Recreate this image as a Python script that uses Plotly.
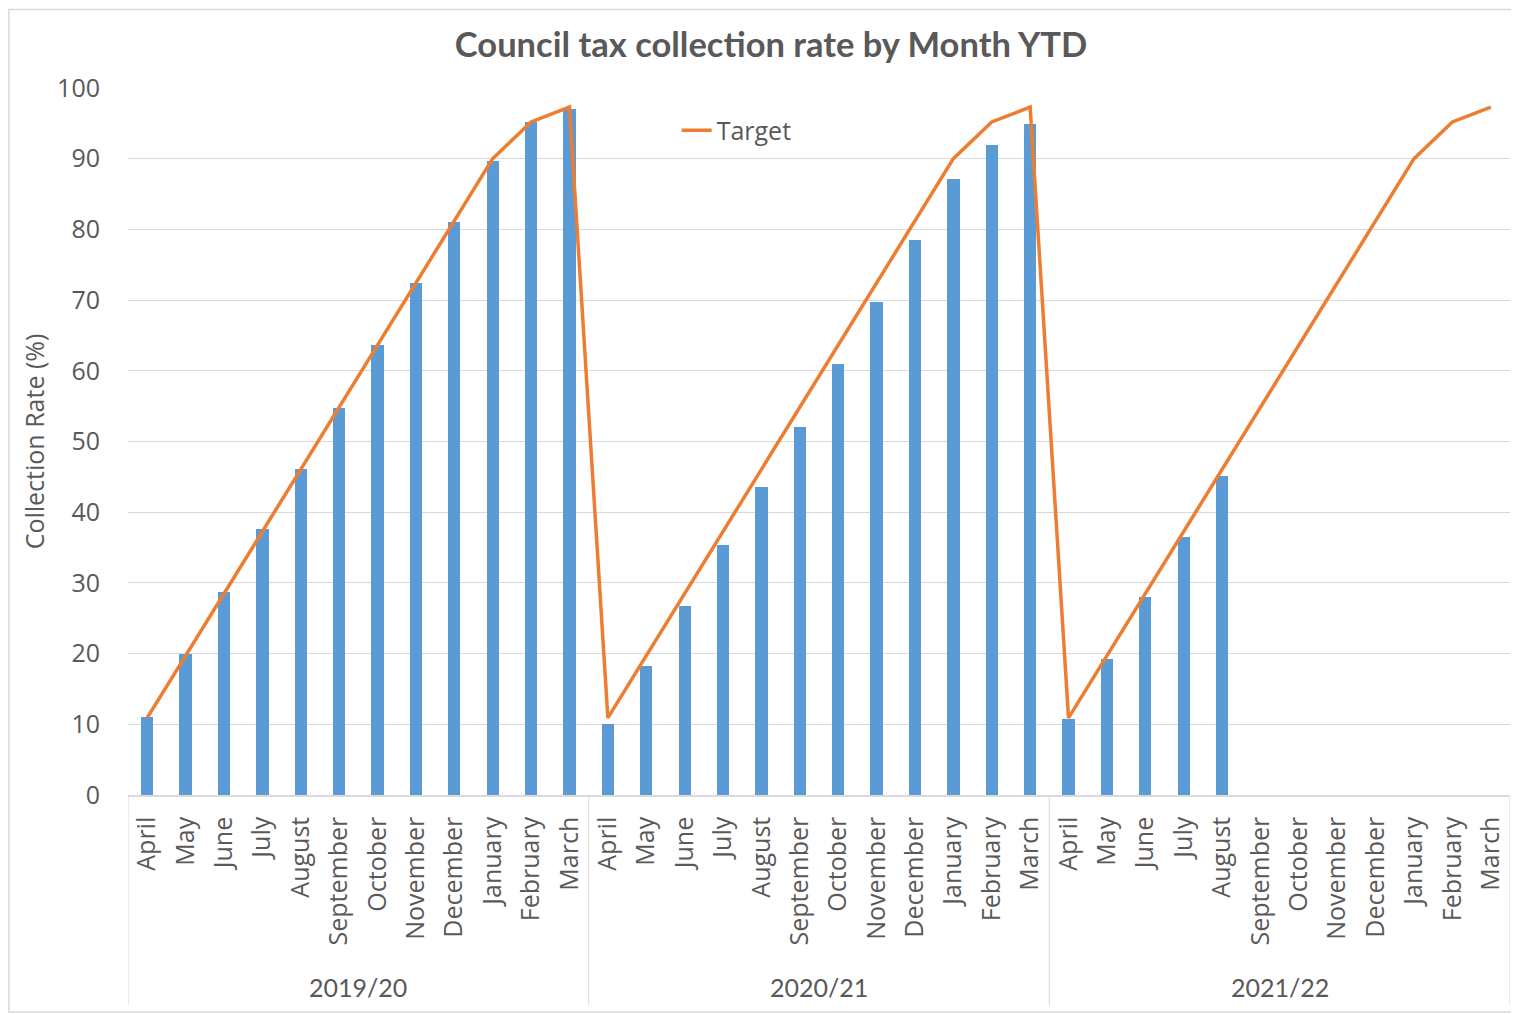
import plotly.graph_objects as go

months = ["April", "May", "June", "July", "August", "September", "October",
          "November", "December", "January", "February", "March"]
years = ["2019/20", "2020/21", "2021/22"]

actual_2019 = [11.1, 20.0, 28.7, 37.6, 46.1, 54.8, 63.6, 72.4, 81.1, 89.7, 95.2, 97.0]
actual_2020 = [10.0, 18.3, 26.8, 35.3, 43.5, 52.1, 60.9, 69.8, 78.5, 87.1, 91.9, 94.9]
actual_2021 = [10.7, 19.2, 28.0, 36.5, 45.1, None, None, None, None, None, None, None]

target_2019 = [10.9, 19.7, 28.5, 37.3, 46.1, 54.8, 63.6, 72.4, 81.2, 90.0, 95.2, 97.3]
target_2020 = [10.9, 19.7, 28.5, 37.3, 46.1, 54.8, 63.6, 72.4, 81.2, 90.0, 95.2, 97.3]
target_2021 = [10.9, 19.7, 28.5, 37.3, 46.1, 54.8, 63.6, 72.4, 81.2, 90.0, 95.2, 97.3]

y_ticks = [0, 10, 20, 30, 40, 50, 60, 70, 80, 90, 100]

actual = actual_2019 + actual_2020 + actual_2021
target = target_2019 + target_2020 + target_2021
labels = months * len(years)
xpos = list(range(len(labels)))

GRAY = "#595959"
FONT = "Open Sans"
TFONT = "Lato"

fig = go.Figure()
fig.add_trace(go.Bar(x=xpos, y=actual, width=0.32, marker_color="#5B9BD5",
                     marker_line_width=0, showlegend=False, name="Actual"))
fig.add_trace(go.Scatter(x=xpos, y=target, mode="lines", name="Target",
                         line=dict(color="#ED7D31", width=3.5)))

n = len(months)
shapes = []
for k in range(len(years) + 1):
    shapes.append(dict(type="line", xref="x", yref="paper",
                       x0=k * n - 0.5, x1=k * n - 0.5, y0=0, y1=-0.297,
                       line=dict(color="#d9d9d9", width=1)))
shapes.append(dict(type="rect", xref="paper", yref="paper",
                   x0=-0.0862, x1=1.005, y0=-0.307, y1=1.111,
                   line=dict(color="#d9d9d9", width=1.5), fillcolor="rgba(0,0,0,0)"))

annotations = []
for k, yr in enumerate(years):
    annotations.append(dict(x=k * n + (n - 1) / 2, xref="x", y=-0.2716, yref="paper",
                            text=yr, showarrow=False, yanchor="middle",
                            font=dict(family=TFONT, size=25, color=GRAY)))

fig.update_layout(
    width=1511, height=1006,
    margin=dict(l=120, r=9, t=80, b=219),
    paper_bgcolor="white", plot_bgcolor="white",
    title=dict(text="<b>Council tax collection rate by Month YTD</b>",
               x=0.505, xanchor="center", y=0.963, yanchor="middle",
               font=dict(family=TFONT, size=34.5, color=GRAY)),
    legend=dict(x=0.397, y=0.94, xanchor="left", yanchor="middle",
                bgcolor="rgba(0,0,0,0)", font=dict(family=FONT, size=25, color=GRAY)),
    xaxis=dict(range=[-0.5, len(labels) - 0.5], tickmode="array", tickvals=xpos,
               ticktext=labels, tickangle=-90, showgrid=False, zeroline=False,
               showline=True, linecolor="#d9d9d9", linewidth=1.5, ticks="",
               ticklabelstandoff=10,
               tickfont=dict(family=FONT, size=25, color=GRAY)),
    yaxis=dict(range=[0, 100], tickmode="array", tickvals=y_ticks,
               showgrid=True, gridcolor="#d9d9d9", gridwidth=1, zeroline=False,
               showline=False, ticks="", ticklabelstandoff=27,
               tickfont=dict(family=FONT, size=25, color=GRAY),
               title=dict(text="Collection Rate (%)", standoff=5,
                          font=dict(family=FONT, size=25, color=GRAY))),
    shapes=shapes, annotations=annotations, bargap=0,
)

fig.write_html("out.html")
